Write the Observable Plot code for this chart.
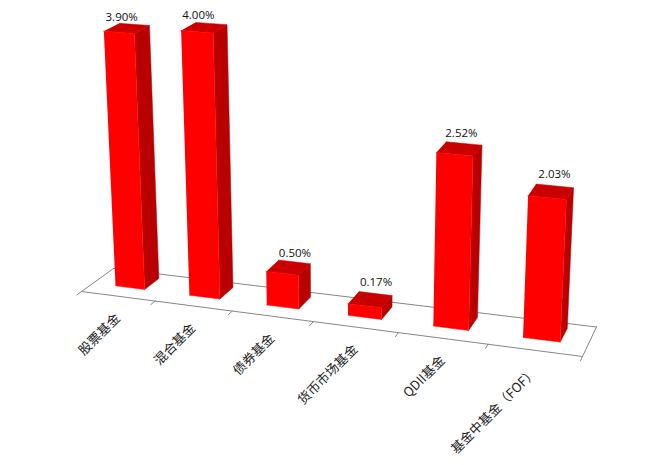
<!DOCTYPE html>
<html>
<head>
<meta charset="utf-8">
<script src="https://cdn.jsdelivr.net/npm/d3@7"></script>
<script src="https://cdn.jsdelivr.net/npm/@observablehq/plot@0.6"></script>
<style>
html,body{margin:0;padding:0;background:#fff;}
svg{display:block;}
</style>
</head>
<body>
<div id="chart"></div>
<script>
const categories = ["股票基金","混合基金","债券基金","货币市场基金","QDII基金","基金中基金（FOF）"];
const values = [3.90,4.00,0.50,0.17,2.52,2.03];
const valueLabels = ["3.90%","4.00%","0.50%","0.17%","2.52%","2.03%"];

// Scene: perspective of the floor, and the vanishing point of the vertical direction
const floorQuad = [[81,291],[582,356],[596,326.5],[113,268]];
const vanish = [345,5300];
const heightRate = 0.0131;
const barWidth = 0.40, barCenter = 0.51, barFront = 0.36, barBack = 0.83;
const labelNudgeX = [-2,-3,9,8,4,5];
const labelNudgeY = [1,0,-3,-6,-4,-6];

const n = categories.length;
const [[x0,y0],[x1,y1],[x2,y2],[x3,y3]] = floorQuad;
const sx=x0-x1+x2-x3, sy=y0-y1+y2-y3, dx1=x1-x2, dx2=x3-x2, dy1=y1-y2, dy2=y3-y2;
const den=dx1*dy2-dx2*dy1;
const g=(sx*dy2-dx2*sy)/den, h=(dx1*sy-sx*dy1)/den;
const a=x1-x0+g*x1, b=x3-x0+h*x3, d=y1-y0+g*y1, e=y3-y0+h*y3;
function project(u,t,v){
  const s=u/n, W=g*s+h*t+1;
  const bx=(a*s+b*t+x0)/W, by=(d*s+e*t+y0)/W;
  const f=heightRate*v/(1-0.09*s+0.03*t);
  return {x:bx+(vanish[0]-bx)*-f, y:by+(vanish[1]-by)*-f};
}

const front=[],side=[],top_=[];
values.forEach((v,i)=>{
  const l=i+barCenter-barWidth/2, r=i+barCenter+barWidth/2;
  const poly=(arr,pts)=>pts.forEach(p=>arr.push({id:i,...project(...p)}));
  poly(front,[[l,barFront,0],[r,barFront,0],[r,barFront,v],[l,barFront,v]]);
  poly(side,[[r,barFront,0],[r,barBack,0],[r,barBack,v],[r,barFront,v]]);
  poly(top_,[[l,barFront,v],[r,barFront,v],[r,barBack,v],[l,barBack,v]]);
});
const floorLines=[
  {id:"f",...project(0,0,0)},{id:"f",...project(n,0,0)},
  {id:"r",...project(n,0,0)},{id:"r",...project(n,1,0)},
  {id:"b",...project(n,1,0)},{id:"b",...project(0,1,0)},
  {id:"l",...project(0,1,0)},{id:"l",...project(0,0,0)}
];
const ticks=d3.range(n+1).flatMap(i=>[{id:i,...project(i,0,0)},{id:i,...project(i,-0.14,0)}]);
const cat=categories.map((c,i)=>({c,...project(i+0.5,0,0)}));
const val=values.map((v,i)=>{const p=project(i+barCenter,0.5,v);return {t:valueLabels[i],x:p.x+labelNudgeX[i],y:p.y+labelNudgeY[i]};});

const plot=Plot.plot({
  width:665,height:465,margin:0,
  x:{domain:[0,665],range:[0,665],axis:null},
  y:{domain:[0,465],range:[0,465],axis:null},
  marks:[
    Plot.line(floorLines,{x:"x",y:"y",z:"id",stroke:"#868686",strokeWidth:1}),
    Plot.line(ticks,{x:"x",y:"y",z:"id",stroke:"#868686",strokeWidth:1}),
    Plot.line(side,{x:"x",y:"y",z:"id",fill:"#b80000",stroke:"#b80000",strokeWidth:0.5}),
    Plot.line(top_,{x:"x",y:"y",z:"id",fill:"#c80000",stroke:"#c80000",strokeWidth:0.5}),
    Plot.line(front,{x:"x",y:"y",z:"id",fill:"#ff0000",stroke:"#ff0000",strokeWidth:0.5}),
    Plot.text(val,{x:"x",y:"y",text:"t",dy:-14,fontSize:11.5,fill:"#111",fontFamily:"'Open Sans',sans-serif"}),
    Plot.text(cat,{x:"x",y:"y",text:"c",dx:0,dy:20,rotate:-45,textAnchor:"end",fontSize:13,fill:"#222",fontFamily:"'Noto Sans CJK SC',sans-serif"})
  ]
});
document.getElementById("chart").append(plot);
</script>
</body>
</html>
